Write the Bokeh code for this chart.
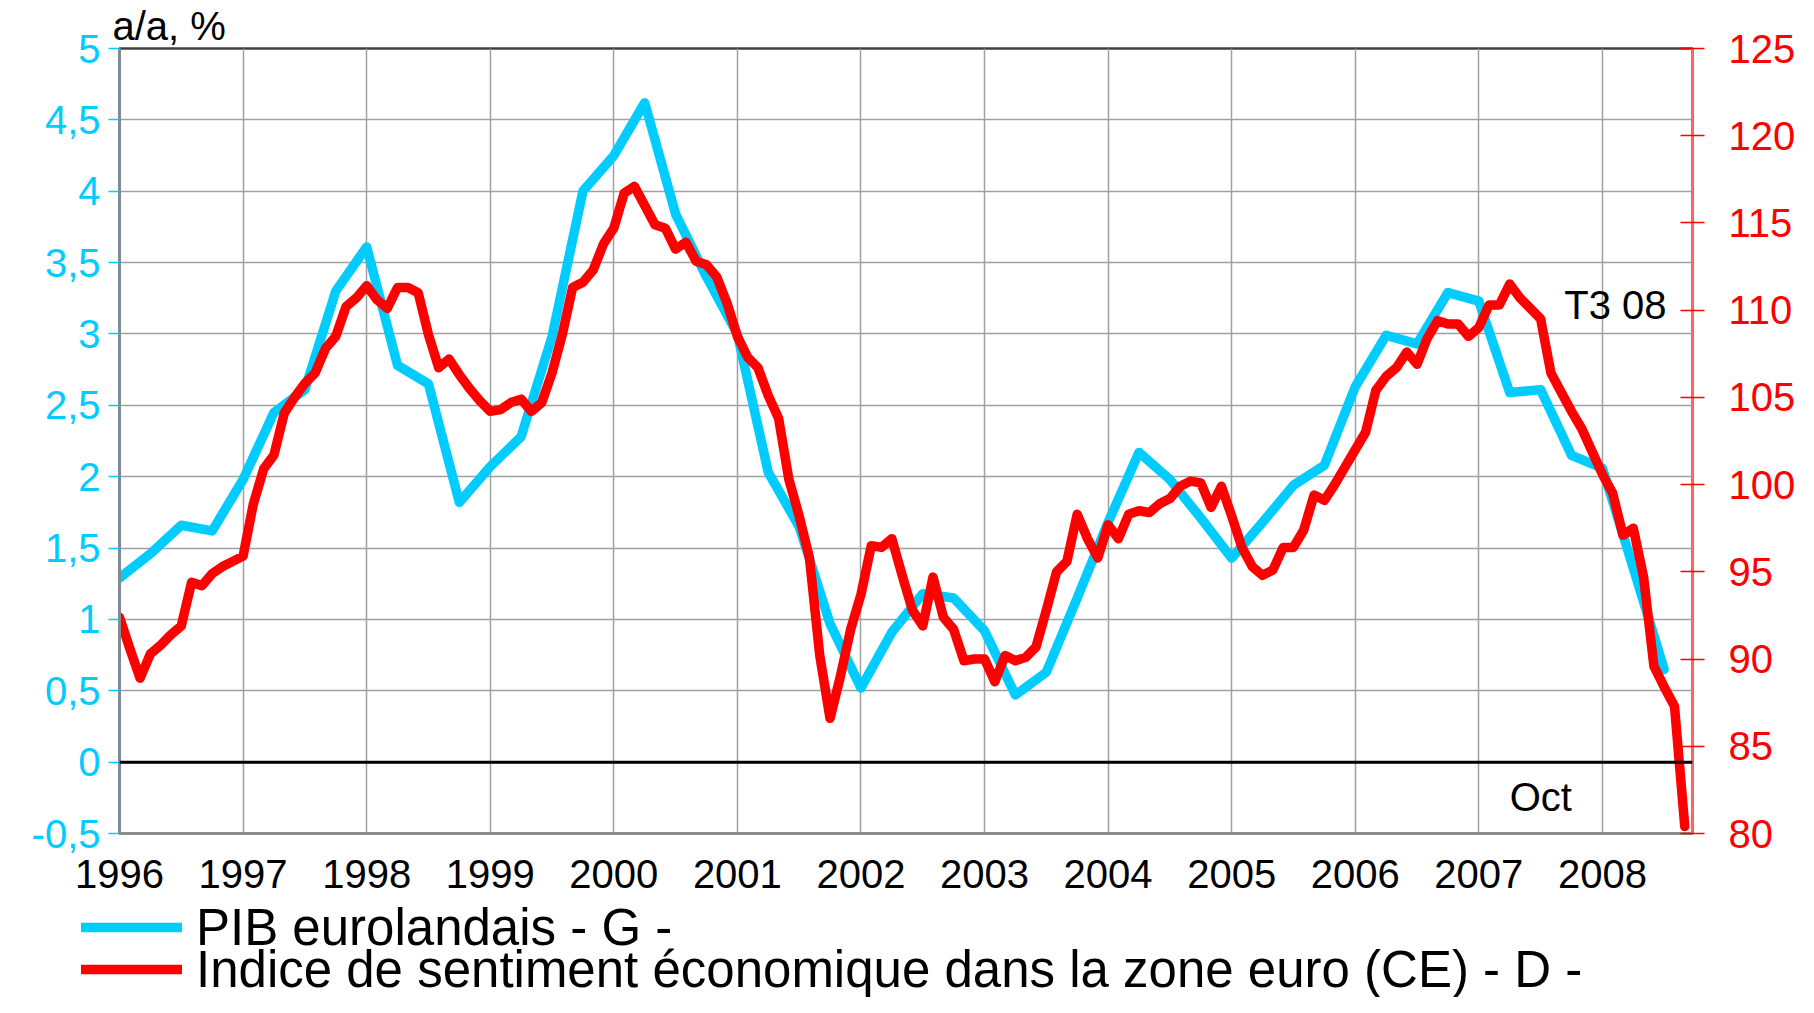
from bokeh.plotting import figure
from bokeh.layouts import column
from bokeh.models import (Range1d, LinearAxis, FixedTicker, Span, Label,
                          Legend, LegendItem, ColumnDataSource)
from bokeh.embed import file_html
from bokeh.resources import INLINE

FONT = "Liberation Sans"
BLUE = "#00CCFF"
RED = "#FF0000"

# ---------------- data ----------------
years = ["1996", "1997", "1998", "1999", "2000", "2001", "2002",
         "2003", "2004", "2005", "2006", "2007", "2008"]
year_month = [12 * i for i in range(len(years))]          # Jan of each year, months since Jan 1996

left_ticks = [-0.5, 0, 0.5, 1, 1.5, 2, 2.5, 3, 3.5, 4, 4.5, 5]
left_labels = ["-0,5", "0", "0,5", "1", "1,5", "2", "2,5", "3", "3,5", "4", "4,5", "5"]
right_ticks = [80, 85, 90, 95, 100, 105, 110, 115, 120, 125]
right_labels = ["80", "85", "90", "95", "100", "105", "110", "115", "120", "125"]

# PIB eurolandais, a/a %, quarterly from T1 1996 to T3 2008
pib = [1.29, 1.46, 1.66, 1.62, 1.98, 2.45, 2.61, 3.30, 3.61, 2.78,
       2.65, 1.82, 2.07, 2.28, 2.98, 4.00, 4.25, 4.62, 3.84, 3.40,
       3.00, 2.03, 1.65, 0.97, 0.52, 0.91, 1.18, 1.15, 0.92, 0.47,
       0.63, 1.15, 1.68, 2.17, 1.98, 1.71, 1.43, 1.68, 1.94, 2.08,
       2.63, 2.99, 2.93, 3.29, 3.23, 2.59, 2.61, 2.15, 2.06, 1.36,
       0.65]
pib_month = [3 * q for q in range(len(pib))]

# Indice de sentiment economique (CE), monthly
esi = [92.4, 90.6, 88.9, 90.3, 90.8, 91.4, 91.9, 94.4, 94.2, 94.9,
       95.3, 95.6, 95.9, 98.9, 100.9, 101.7, 104.1, 105.0, 105.8, 106.4,
       107.8, 108.5, 110.2, 110.7, 111.4, 110.6, 110.1, 111.3, 111.3, 111.0,
       108.6, 106.7, 107.2, 106.3, 105.5, 104.8, 104.2, 104.3, 104.7, 104.9,
       104.2, 104.7, 106.4, 108.6, 111.3, 111.6, 112.3, 113.8, 114.7, 116.7,
       117.1, 116.0, 114.9, 114.7, 113.5, 113.9, 112.8, 112.6, 111.9, 110.4,
       108.5, 107.3, 106.7, 105.1, 103.8, 100.3, 98.2, 95.8, 90.2, 86.6,
       89.0, 91.7, 93.7, 96.5, 96.4, 96.9, 94.8, 92.8, 91.9, 94.7,
       92.4, 91.7, 89.9, 90.0, 90.0, 88.7, 90.2, 89.9, 90.1, 90.7,
       92.8, 95.0, 95.6, 98.3, 96.9, 95.8, 97.7, 96.9, 98.3, 98.5,
       98.4, 98.9, 99.2, 99.9, 100.2, 100.1, 98.7, 99.9, 98.2, 96.4,
       95.3, 94.8, 95.1, 96.4, 96.4, 97.4, 99.4, 99.1, 100.0, 101.0,
       102.0, 103.0, 105.4, 106.2, 106.7, 107.6, 106.9, 108.4, 109.4, 109.2,
       109.2, 108.5, 109.0, 110.3, 110.3, 111.5, 110.7, 110.1, 109.5, 106.4,
       105.3, 104.2, 103.2, 101.9, 100.6, 99.5, 97.1, 97.5, 94.7, 89.6,
       88.4, 87.3, 80.4]
esi_month = list(range(len(esi)))

legend_labels = ["PIB eurolandais - G -",
                 "Indice de sentiment économique dans la zone euro (CE) - D -"]

# ---------------- main figure ----------------
p = figure(width=1798, height=905,
           x_range=Range1d(0, 152.75), y_range=Range1d(-0.5, 5),
           output_backend="svg", toolbar_location=None,
           min_border_left=119, min_border_right=106,
           min_border_top=46, min_border_bottom=72)
p.frame_align = False
p.extra_y_ranges = {"esi": Range1d(80, 125)}
p.background_fill_color = "white"
p.border_fill_color = "white"
p.outline_line_color = "#404040"
p.outline_line_width = 2.5

# y-unit label as a left-aligned title above the frame
p.title.text = "a/a, %"
p.title.text_font = FONT
p.title.text_font_size = "40px"
p.title.text_font_style = "normal"
p.title.text_color = "black"
p.title.align = "left"
p.title.offset = -7
p.title.standoff = 2

# grid
p.xgrid.ticker = FixedTicker(ticks=year_month)
p.ygrid.ticker = FixedTicker(ticks=left_ticks)
for g in (p.xgrid, p.ygrid):
    g.grid_line_color = "#a0a0a0"
    g.grid_line_width = 1.5

# bottom axis
xa = p.xaxis[0]
xa.ticker = FixedTicker(ticks=year_month)
xa.major_label_overrides = {m: y for m, y in zip(year_month, years)}
xa.major_label_text_font = FONT
xa.major_label_text_font_size = "40px"
xa.major_label_text_color = "black"
xa.major_tick_in = 0
xa.major_tick_out = 0
xa.minor_tick_in = 0
xa.minor_tick_out = 0
xa.major_label_standoff = 26
xa.axis_line_color = "#8c8c8c"
xa.axis_line_width = 3

# left axis
ya = p.yaxis[0]
ya.ticker = FixedTicker(ticks=left_ticks)
ya.major_label_overrides = {t: l for t, l in zip(left_ticks, left_labels)}
ya.major_label_text_font = FONT
ya.major_label_text_font_size = "40px"
ya.major_label_text_color = BLUE
ya.major_tick_in = 0
ya.major_tick_out = 11
ya.major_tick_line_color = BLUE
ya.major_tick_line_width = 1.5
ya.minor_tick_in = 0
ya.minor_tick_out = 0
ya.major_label_standoff = 8
ya.axis_line_color = "#7f8c94"
ya.axis_line_width = 3

# right axis
ra = LinearAxis(y_range_name="esi")
ra.ticker = FixedTicker(ticks=right_ticks)
ra.major_label_overrides = {t: l for t, l in zip(right_ticks, right_labels)}
ra.major_label_text_font = FONT
ra.major_label_text_font_size = "40px"
ra.major_label_text_color = RED
ra.major_tick_in = 12
ra.major_tick_out = 12
ra.major_tick_line_color = RED
ra.major_tick_line_width = 1.5
ra.minor_tick_in = 0
ra.minor_tick_out = 0
ra.major_label_standoff = 24
ra.axis_line_color = "#ff6a6a"
ra.axis_line_width = 2.5
p.add_layout(ra, "right")

# zero line
p.add_layout(Span(location=0, dimension="width", line_color="black", line_width=3))

# series
src_pib = ColumnDataSource(dict(x=pib_month, y=pib))
src_esi = ColumnDataSource(dict(x=esi_month, y=esi))
line_style = dict(line_width=9.5, line_join="round", line_cap="round")
p.line("x", "y", source=src_pib, line_color=BLUE, **line_style)
p.line("x", "y", source=src_esi, line_color=RED, y_range_name="esi", **line_style)

# annotations inside the frame
p.add_layout(Label(x=140.3, y=3.20, text="T3 08", text_font=FONT,
                   text_font_size="40px", text_color="black",
                   text_align="left", text_baseline="middle"))
p.add_layout(Label(x=135.0, y=-0.243, text="Oct", text_font=FONT,
                   text_font_size="40px", text_color="black",
                   text_align="left", text_baseline="middle"))

# ---------------- legend strip below the chart ----------------
# the strip shares the series sources; its ranges keep the lines out of view,
# so only the legend keys are drawn
lf = figure(width=1798, height=92, x_range=Range1d(0, 1), y_range=Range1d(-2, -1),
            output_backend="svg", toolbar_location=None,
            x_axis_location=None, y_axis_location=None,
            min_border=0, min_border_left=0, min_border_right=0,
            min_border_top=0, min_border_bottom=0)
lf.frame_align = False
lf.extra_y_ranges = {"esi": Range1d(-2, -1)}
lf.outline_line_color = None
lf.grid.visible = False
lf.background_fill_color = "white"
lf.border_fill_color = "white"

key_pib = lf.line("x", "y", source=src_pib, line_color=BLUE, **line_style)
key_esi = lf.line("x", "y", source=src_esi, line_color=RED, y_range_name="esi", **line_style)

legend_style = dict(orientation="vertical",
                    label_text_font=FONT, label_text_font_size="51px",
                    label_text_color="black", label_height=64,
                    glyph_width=101, glyph_height=64, label_standoff=14,
                    spacing=0, padding=0, margin=0,
                    background_fill_alpha=0, border_line_alpha=0)
lf.add_layout(Legend(items=[LegendItem(label=legend_labels[0], renderers=[key_pib])],
                     location=(81, 38), **legend_style))
lf.add_layout(Legend(items=[LegendItem(label=legend_labels[1], renderers=[key_esi])],
                     location=(81, -4), **legend_style))

layout = column(p, lf, spacing=0)
open("out.html", "w").write(file_html(layout, INLINE))
